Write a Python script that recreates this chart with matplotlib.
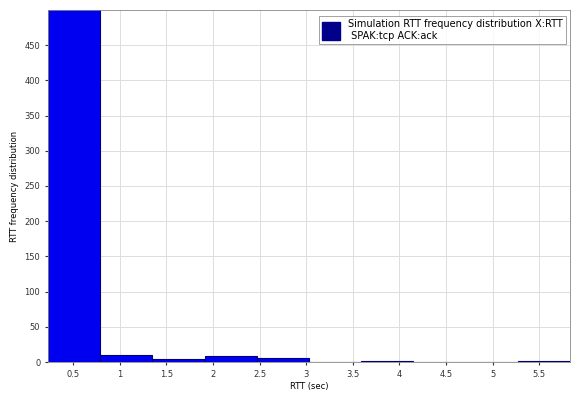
import matplotlib
matplotlib.use("Agg")
import matplotlib.pyplot as plt
from matplotlib.patches import Patch

# histogram bins (RTT in sec) and counts
bin_centers = [0.51, 1.07, 1.63, 2.19, 2.75, 3.31, 3.87, 4.43, 4.99, 5.55]
counts = [1800, 10, 5, 9, 6, 0, 2, 0, 0, 2]
bin_width = 0.56
x_ticks = [0.5, 1, 1.5, 2, 2.5, 3, 3.5, 4, 4.5, 5, 5.5]
x_ticklabels = ["0.5", "1", "1.5", "2", "2.5", "3", "3.5", "4", "4.5", "5", "5.5"]
y_ticks = [0, 50, 100, 150, 200, 250, 300, 350, 400, 450]

fig = plt.figure(figsize=(5.71, 3.94), dpi=100)
ax = fig.add_axes([0.084, 0.081, 0.914, 0.894])

ax.bar(bin_centers, counts, width=bin_width, color="#0000f0",
       edgecolor="#00007a", linewidth=0.8, zorder=2)

ax.set_xlim(bin_centers[0] - bin_width / 2, bin_centers[-1] + bin_width / 2)
ax.set_ylim(0, 500)
ax.set_xticks(x_ticks)
ax.set_xticklabels(x_ticklabels)
ax.set_yticks(y_ticks)
ax.tick_params(labelsize=6, length=2, colors="#333333")
ax.grid(True, color="#dddddd", linestyle="-", linewidth=0.7, zorder=0)
for s in ax.spines.values():
    s.set_color("#888888")
    s.set_linewidth(0.6)

ax.set_xlabel("RTT (sec)", fontsize=6, labelpad=2)
ax.set_ylabel("RTT frequency distribution", fontsize=6, labelpad=4)

handle = Patch(facecolor="#00008b", edgecolor="#00008b")
leg = ax.legend([handle], ["Simulation RTT frequency distribution X:RTT\n SPAK:tcp ACK:ack"],
                loc="upper right", fontsize=7, frameon=True, fancybox=False,
                handlelength=1.9, handleheight=2.4, handletextpad=0.8,
                borderpad=0.3, borderaxespad=0.3, bbox_to_anchor=(0.998, 0.99))
leg.get_frame().set_edgecolor("#777777")
leg.get_frame().set_linewidth(0.6)

fig.savefig("out.png", dpi=100)
